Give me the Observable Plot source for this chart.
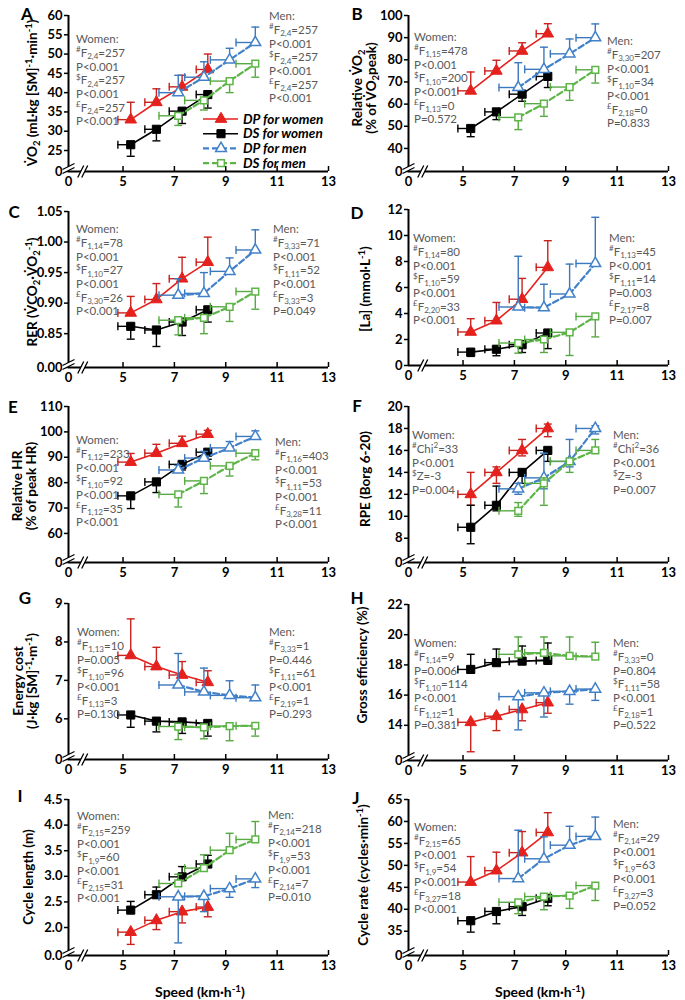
<!DOCTYPE html>
<html>
<head>
<meta charset="utf-8">
<script src="https://cdn.jsdelivr.net/npm/d3@7"></script>
<script src="https://cdn.jsdelivr.net/npm/@observablehq/plot@0.6"></script>
<style>
html,body{margin:0;padding:0;background:#fff;}
#fig{position:relative;width:685px;height:1000px;overflow:hidden;font-family:Lato,"Open Sans",sans-serif;}
.panel{position:absolute;}
.panel svg{overflow:visible;}
.ann{position:absolute;color:#595959;font-size:11.5px;line-height:13.7px;white-space:nowrap;}
.ann sup,.ann sub,.yt sup,.yt sub,.xt sup{font-size:0.7em;line-height:0;position:relative;vertical-align:baseline;}
.ann sup{top:-0.55em;} .ann sub{top:0.3em;}
.yt{position:absolute;font-weight:bold;font-size:13.5px;line-height:14px;white-space:nowrap;text-align:center;color:#000;transform:translate(-50%,-50%) rotate(-90deg);}
.yt sup{top:-0.5em;} .yt sub{top:0.3em;}
.xt{position:absolute;font-weight:bold;font-size:14px;white-space:nowrap;transform:translate(-50%,-50%);}
.xt sup{top:-0.5em;}
.letter{position:absolute;font-weight:bold;font-size:17px;line-height:17px;transform:translate(-50%,-50%);}
.legend{position:absolute;}
</style>
</head>
<body>
<div id="fig"></div>
<script>
// ---------------- DATA ----------------
const speedW = [5.3, 6.3, 7.3, 8.3];
const speedM = [7.15, 8.15, 9.15, 10.15];
const speedSdW = [0.5, 0.45, 0.5, 0.45];
const speedSdM = [0.75, 0.75, 0.75, 0.75];
const xTicks = [0, 5, 7, 9, 11, 13];

// A: VO2
const A_ticks = [0, 25, 30, 35, 40, 45, 50, 55, 60];
const A_dpW = [33, 37.5, 41.5, 46],     A_dpW_err = [4.5, 3.5, 3, 4];
const A_dsW = [26.5, 30.5, 35.2, 39.5], A_dsW_err = [-3, -3, -3.2, -3.5];
const A_dpM = [40, 44, 48.5, 53],       A_dpM_err = [4.5, 4, 3, 4];
const A_dsM = [34, 38, 43, 47.5],       A_dsM_err = [-2.5, -2.5, -3, -3.5];
// B: Relative VO2
const B_ticks = [0, 40, 50, 60, 70, 80, 90, 100];
const B_dpW = [66, 75, 84, 91.8],       B_dpW_err = [8.5, 4.8, 3.7, 4.5];
const B_dsW = [49, 56.5, 64.5, 72.5],   B_dsW_err = [-3.7, -3.5, -3.2, -5];
const B_dpM = [67.5, 75.7, 82.7, 90],   B_dpM_err = [11.2, 10, 6.7, 6.2];
const B_dsM = [54, 60.2, 67.7, 75.5],   B_dsM_err = [-5.5, -5.7, -6, -6];
// C: RER
const C_ticks = [0, 0.85, 0.90, 0.95, 1.00, 1.05];
const C_dpW = [0.884, 0.906, 0.940, 0.967], C_dpW_err = [0.027, 0.026, 0.035, 0.041];
const C_dsW = [0.862, 0.856, 0.869, 0.889], C_dsW_err = [-0.021, -0.027, -0.022, -0.020];
const C_dpM = [0.913, 0.916, 0.952, 0.987], C_dpM_err = [0.027, 0.034, 0.022, 0.033];
const C_dsM = [0.872, 0.876, 0.894, 0.919], C_dsM_err = [-0.024, -0.026, -0.024, -0.029];
// D: [La]
const D_ticks = [0, 2, 4, 6, 8, 10, 12];
const D_dpW = [2.58, 3.45, 5.1, 7.55],  D_dpW_err = [1.02, 1.4, 1.6, 2.05];
const D_dsW = [1.03, 1.25, 1.6, 2.5],   D_dsW_err = [-0.33, -0.5, -0.6, -1.2];
const D_dpM = [4.5, 4.45, 5.5, 7.85],   D_dpM_err = [3.9, 1.8, 2.3, 3.55];
const D_dsM = [1.73, 2.0, 2.55, 3.77],  D_dsM_err = [-0.78, -1.0, -1.78, -1.57];
// E: Relative HR
const E_ticks = [0, 60, 70, 80, 90, 100, 110];
const E_dpW = [88.1, 91.6, 95.5, 99.1], E_dpW_err = [3.4, 3.5, 2.8, 1.5];
const E_dsW = [74.8, 80.3, 87.2, 92],   E_dsW_err = [-5, -4.2, -2.2, -2.8];
const E_dpM = [85, 89.7, 93.7, 98.2],   E_dpM_err = [1.8, 2.6, 2.5, 2.2];
const E_dsM = [75.4, 80.7, 86.6, 91.6], E_dsM_err = [-5, -5, -4, -2.6];
// F: RPE (median, interquartile range)
const F_ticks = [0, 8, 10, 12, 14, 16, 18, 20];
const F_dpW = [12, 14, 16, 18],     F_dpW_lo = [11, 13, 15.5, 17.25], F_dpW_hi = [14, 14.5, 17, 18.4];
const F_dsW = [9, 11, 14, 16],      F_dsW_lo = [7.5, 10.5, 13, 15],   F_dsW_hi = [11, 12.75, 14, 16];
const F_dpM = [12.5, 13.5, 15, 18], F_dpM_lo = [12, 12.5, 14.5, 17.5], F_dpM_hi = [13, 15.75, 17, 18.25];
const F_dsM = [10.5, 13, 15, 16],   F_dsM_lo = [10, 11, 14, 16],      F_dsM_hi = [11.25, 13.5, 15, 17];
// G: Energy cost
const G_ticks = [0, 6, 7, 8, 9];
const G_dpW = [7.65, 7.36, 7.14, 6.95], G_dpW_err = [0.95, 0.5, 0.35, 0.3];
const G_dsW = [6.1, 5.94, 5.92, 5.88],  G_dsW_err = [-0.32, -0.28, -0.3, -0.33];
const G_dpM = [6.88, 6.7, 6.61, 6.55],  G_dpM_err = [0.82, 0.62, 0.38, 0.33];
const G_dsM = [5.8, 5.78, 5.81, 5.82],  G_dsM_err = [-0.34, -0.3, -0.38, -0.27];
// H: Gross efficiency
const H_ticks = [0, 14, 16, 18, 20, 22];
const H_dpW = [14.2, 14.6, 15.05, 15.5],  H_dpW_err = [-1.95, -0.95, -0.75, -0.7];
const H_dsW = [17.7, 18.15, 18.25, 18.3], H_dsW_err = [1.0, 0.9, 1.0, 1.15];
const H_dpM = [15.9, 16.15, 16.25, 16.4], H_dpM_err = [-2.2, -1.6, -0.85, -0.75];
const H_dsM = [18.7, 18.8, 18.6, 18.55],  H_dsM_err = [1.15, 1.05, 1.25, 0.95];
// I: Cycle length
const I_ticks = [0, 2.0, 2.5, 3.0, 3.5, 4.0, 4.5];
const I_dpW = [1.91, 2.14, 2.31, 2.4],  I_dpW_err = [-0.24, -0.18, -0.22, -0.19];
const I_dsW = [2.34, 2.64, 2.99, 3.24], I_dsW_err = [0.17, 0.15, 0.2, 0.17];
const I_dpM = [2.6, 2.61, 2.76, 2.95],  I_dpM_err = [-0.9, -0.3, -0.17, -0.17];
const I_dsM = [2.86, 3.16, 3.51, 3.72], I_dsM_err = [0.18, 0.26, 0.33, 0.35];
// J: Cycle rate
const J_ticks = [0, 35, 40, 45, 50, 55, 60, 65];
const J_dpW = [46.2, 48.8, 52.9, 57.5], J_dpW_err = [5.8, 4.2, 4.8, 4.5];
const J_dsW = [37.4, 39.5, 40.6, 42.5], J_dsW_err = [-2.6, -2.8, -2, -1.7];
const J_dpM = [47, 51.5, 54.6, 56.6],   J_dpM_err = [11, 5, 4.3, 4.4];
const J_dsM = [41.6, 42.9, 43.1, 45.4], J_dsM_err = [-2.6, -3, -2.9, -3.4];

// statistics text
const A_women = ["Women:", "#F_{2,4}=257", "P<0.001", "$F_{2,4}=257", "P<0.001", "£F_{2,4}=257", "P<0.001"];
const A_men   = ["Men:", "#F_{2,4}=257", "P<0.001", "$F_{2,4}=257", "P<0.001", "£F_{2,4}=257", "P<0.001"];
const B_women = ["Women:", "#F_{1,15}=478", "P<0.001", "$F_{1,10}=200", "P<0.001", "£F_{1,13}=0", "P=0.572"];
const B_men   = ["Men:", "#F_{3,30}=207", "P<0.001", "$F_{1,10}=34", "P<0.001", "£F_{2,18}=0", "P=0.833"];
const C_women = ["Women:", "#F_{1,14}=78", "P<0.001", "$F_{1,10}=27", "P<0.001", "£F_{3,30}=26", "P<0.001"];
const C_men   = ["Men:", "#F_{3,33}=71", "P<0.001", "$F_{1,11}=52", "P<0.001", "£F_{3,33}=3", "P=0.049"];
const D_women = ["Women:", "#F_{1,14}=80", "P<0.001", "$F_{1,10}=59", "P<0.001", "£F_{2,20}=33", "P<0.001"];
const D_men   = ["Men:", "#F_{1,13}=45", "P<0.001", "$F_{1,11}=14", "P=0.003", "£F_{2,17}=8", "P=0.007"];
const E_women = ["Women:", "#F_{1,12}=233", "P<0.001", "$F_{1,10}=92", "P<0.001", "£F_{1,12}=35", "P<0.001"];
const E_men   = ["Men:", "#F_{1,16}=403", "P<0.001", "$F_{1,11}=53", "P<0.001", "£F_{3,28}=11", "P<0.001"];
const F_women = ["Women:", "#Chi^{2}=33", "P<0.001", "$Z=-3", "P=0.004"];
const F_men   = ["Men:", "#Chi^{2}=36", "P<0.001", "$Z=-3", "P=0.007"];
const G_women = ["Women:", "#F_{1,13}=10", "P=0.005", "$F_{1,10}=96", "P<0.001", "£F_{1,13}=3", "P=0.130"];
const G_men   = ["Men:", "#F_{3,33}=1", "P=0.446", "$F_{1,11}=61", "P<0.001", "£F_{2,19}=1", "P=0.293"];
const H_women = ["Women:", "#F_{1,14}=9", "P=0.006", "$F_{1,10}=114", "P<0.001", "£F_{1,12}=1", "P=0.381"];
const H_men   = ["Men:", "#F_{3,33}=0", "P=0.804", "$F_{1,11}=58", "P<0.001", "£F_{2,18}=1", "P=0.522"];
const I_women = ["Women:", "#F_{2,15}=259", "P<0.001", "$F_{1,9}=60", "P<0.001", "£F_{2,15}=31", "P<0.001"];
const I_men   = ["Men:", "#F_{2,14}=218", "P<0.001", "$F_{1,9}=53", "P<0.001", "£F_{2,14}=7", "P=0.010"];
const J_women = ["Women:", "#F_{2,15}=65", "P<0.001", "$F_{1,9}=54", "P<0.001", "£F_{3,27}=18", "P<0.001"];
const J_men   = ["Men:", "#F_{2,14}=29", "P<0.001", "$F_{1,9}=63", "P<0.001", "£F_{3,27}=3", "P=0.052"];

const legendLabels = ["DP for women", "DS for women", "DP for men", "DS for men"];
const xTitle = "Speed (km·h^{-1})";

// ---------------- STYLE / LAYOUT ----------------
const style = {
  dpW: {color: "#e5211d", bar: "#c9231e", symbol: "triangle", filled: true,  dash: null,  r: 4.3},
  dsW: {color: "#000000", bar: "#000000", symbol: "square",   filled: true,  dash: null,  r: 4.6},
  dpM: {color: "#4181c9", bar: "#3b78be", symbol: "triangle", filled: false, dash: "6,3", r: 4.0},
  dsM: {color: "#5db547", bar: "#57aa43", symbol: "square",   filled: false, dash: "6,3", r: 3.8}
};
const seriesKeys = ["dpW", "dsW", "dpM", "dsM"];

function rich(s) {
  return s.replace(/^([#$£])/, "<sup>$1</sup>")
          .replace(/_\{([^}]*)\}/g, "<sub>$1</sub>")
          .replace(/\^\{([^}]*)\}/g, "<sup>$1</sup>");
}

const capH = {draw(c) { c.moveTo(-4, 0); c.lineTo(4, 0); }};
const capV = {draw(c) { c.moveTo(0, -4); c.lineTo(0, 4); }};
const brkYFill = {draw(c) { c.moveTo(-6, 2); c.lineTo(6, -4); c.lineTo(6, 0); c.lineTo(-6, 6); c.closePath(); }};
const brkYLine = {draw(c) { c.moveTo(-6, 2); c.lineTo(6, -4); c.moveTo(-6, 6); c.lineTo(6, 0); }};
const brkXFill = {draw(c) { c.moveTo(-5, 6); c.lineTo(1, -6); c.lineTo(5, -6); c.lineTo(-1, 6); c.closePath(); }};
const brkXLine = {draw(c) { c.moveTo(-5, 6); c.lineTo(1, -6); c.moveTo(-1, 6); c.lineTo(5, -6); }};

function makeRows(xs, sds, ys, err, lo, hi) {
  return ys.map((y, i) => {
    if (err) {
      const e = y + err[i];
      return {x: xs[i], sd: sds[i], y, y1: Math.min(y, e), y2: Math.max(y, e), caps: [e]};
    }
    return {x: xs[i], sd: sds[i], y, y1: lo[i], y2: hi[i], caps: [lo[i], hi[i]]};
  });
}

function sw(key, ys, err, lo, hi) {
  const men = key === "dpM" || key === "dsM";
  return {key, rows: makeRows(men ? speedM : speedW, men ? speedSdM : speedSdW, ys, err, lo, hi)};
}

const panels = [
  {id: "A", left: 0,   top: 0,   ticks: A_ticks, yBreak: 21.63, dec: 0,
   series: [sw("dpW", A_dpW, A_dpW_err), sw("dsW", A_dsW, A_dsW_err), sw("dpM", A_dpM, A_dpM_err), sw("dsM", A_dsM, A_dsM_err)],
   women: A_women, men: A_men, wPos: [76, 39], mPos: [269, 16], letterPos: [27, 13],
   title: ["V̇O<sub>2</sub> (mL·kg [SM]<sup>-1</sup>·min<sup>-1</sup>)"], titlePos: [32, 93]},
  {id: "B", left: 340, top: 0,   ticks: B_ticks, yBreak: 33.2, dec: 0,
   series: [sw("dpW", B_dpW, B_dpW_err), sw("dsW", B_dsW, B_dsW_err), sw("dpM", B_dpM, B_dpM_err), sw("dsM", B_dsM, B_dsM_err)],
   women: B_women, men: B_men, wPos: [414, 37], mPos: [607, 41], letterPos: [357, 13],
   title: ["Relative V̇O<sub>2</sub>", "(% of V̇O<sub>2</sub>peak)"], titlePos: [364, 88]},
  {id: "C", left: 0,   top: 196, ticks: C_ticks, yBreak: 0.8077, dec: 2,
   series: [sw("dpW", C_dpW, C_dpW_err), sw("dsW", C_dsW, C_dsW_err), sw("dpM", C_dpM, C_dpM_err), sw("dsM", C_dsM, C_dsM_err)],
   women: C_women, men: C_men, wPos: [76, 229], mPos: [273, 229], letterPos: [14, 211],
   title: ["RER (V̇CO<sub>2</sub>·V̇O<sub>2</sub><sup>-1</sup>)"], titlePos: [32, 292]},
  {id: "D", left: 340, top: 194, ticks: D_ticks, yBreak: null, dec: 0,
   series: [sw("dpW", D_dpW, D_dpW_err), sw("dsW", D_dsW, D_dsW_err), sw("dpM", D_dpM, D_dpM_err), sw("dsM", D_dsM, D_dsM_err)],
   women: D_women, men: D_men, wPos: [413, 238], mPos: [609, 238], letterPos: [357, 212],
   title: ["[La] (mmol·L<sup>-1</sup>)"], titlePos: [365, 289]},
  {id: "E", left: 0,   top: 391, ticks: E_ticks, yBreak: 51.7, dec: 0,
   series: [sw("dpW", E_dpW, E_dpW_err), sw("dsW", E_dsW, E_dsW_err), sw("dpM", E_dpM, E_dpM_err), sw("dsM", E_dsM, E_dsM_err)],
   women: E_women, men: E_men, wPos: [76, 440], mPos: [275, 442], letterPos: [13, 406],
   title: ["Relative HR", "(% of peak HR)"], titlePos: [24, 486]},
  {id: "F", left: 340, top: 391, ticks: F_ticks, yBreak: 6.52, dec: 0,
   series: [sw("dpW", F_dpW, null, F_dpW_lo, F_dpW_hi), sw("dsW", F_dsW, null, F_dsW_lo, F_dsW_hi),
            sw("dpM", F_dpM, null, F_dpM_lo, F_dpM_hi), sw("dsM", F_dsM, null, F_dsM_lo, F_dsM_hi)],
   women: F_women, men: F_men, wPos: [412, 435], mPos: [613, 435], letterPos: [357, 405],
   title: ["RPE (Borg 6-20)"], titlePos: [365, 479]},
  {id: "G", left: 0,   top: 588, ticks: G_ticks, yBreak: 5.15, dec: 0,
   series: [sw("dpW", G_dpW, G_dpW_err), sw("dsW", G_dsW, G_dsW_err), sw("dpM", G_dpM, G_dpM_err), sw("dsM", G_dsM, G_dsM_err)],
   women: G_women, men: G_men, wPos: [77, 632], mPos: [269, 632], letterPos: [25, 597],
   title: ["Energy cost", "(J·kg [SM]<sup>-1</sup>·m<sup>-1</sup>)"], titlePos: [25, 681]},
  {id: "H", left: 340, top: 589, ticks: H_ticks, yBreak: 12.2, dec: 0,
   series: [sw("dpW", H_dpW, H_dpW_err), sw("dsW", H_dsW, H_dsW_err), sw("dpM", H_dpM, H_dpM_err), sw("dsM", H_dsM, H_dsM_err)],
   women: H_women, men: H_men, wPos: [414, 643], mPos: [613, 643], letterPos: [357, 597],
   title: ["Gross efficiency (%)"], titlePos: [362, 665]},
  {id: "I", left: 0,   top: 784, ticks: I_ticks, yBreak: 1.61, dec: 1,
   series: [sw("dpW", I_dpW, I_dpW_err), sw("dsW", I_dsW, I_dsW_err), sw("dpM", I_dpM, I_dpM_err), sw("dsM", I_dsM, I_dsM_err)],
   women: I_women, men: I_men, wPos: [77, 816], mPos: [268, 815], letterPos: [20, 795],
   title: ["Cycle length (m)"], titlePos: [28, 877], xTitlePos: [200, 991]},
  {id: "J", left: 340, top: 784, ticks: J_ticks, yBreak: 31.3, dec: 0,
   series: [sw("dpW", J_dpW, J_dpW_err), sw("dsW", J_dsW, J_dsW_err), sw("dpM", J_dpM, J_dpM_err), sw("dsM", J_dsM, J_dsM_err)],
   women: J_women, men: J_men, wPos: [414, 827], mPos: [613, 824], letterPos: [356, 797],
   title: ["Cycle rate (cycles·min<sup>-1</sup>)"], titlePos: [363, 875], xTitlePos: [540, 991]}
];

const fig = document.getElementById("fig");
const ML = 68, MT = 15, MB = 24, H = 195, XB = 3.8;

function seriesMarks(s) {
  const st = style[s.key];
  const rows = s.rows;
  const caps = rows.flatMap(r => r.caps.map(c => ({x: r.x, y: c})));
  return [
    Plot.ruleX(rows, {x: "x", y1: "y1", y2: "y2", stroke: st.bar, strokeWidth: 1.4}),
    Plot.dot(caps, {x: "x", y: "y", symbol: capH, r: 1, fill: "none", stroke: st.bar, strokeWidth: 1.4}),
    Plot.ruleY(rows, {y: "y", x1: d => d.x - d.sd, x2: "x", stroke: st.bar, strokeWidth: 1.4}),
    Plot.dot(rows, {x: d => d.x - d.sd, y: "y", symbol: capV, r: 1, fill: "none", stroke: st.bar, strokeWidth: 1.4}),
    Plot.line(rows, {x: "x", y: "y", stroke: st.color, strokeWidth: st.dash ? 2.2 : 1.6, strokeDasharray: st.dash}),
    Plot.dot(rows, {x: "x", y: "y", symbol: st.symbol, r: st.r, fill: st.filled ? st.color : "white",
                    stroke: st.color, strokeWidth: st.filled ? 1 : 1.5})
  ];
}

for (const p of panels) {
  const width = p.left === 0 ? 340 : 345;
  const mr = width - 260 - ML;
  const yb = H - MB;
  const yMax = p.ticks[p.ticks.length - 1];
  const yScale = p.yBreak == null
    ? {type: "linear", domain: [0, yMax], range: [yb, MT]}
    : {type: "linear", domain: [0, p.yBreak, yMax], range: [yb, yb - 8, MT]};
  const xScale = {type: "linear", domain: [0, XB, 13], range: [ML, ML + 23.7, width - mr]};
  const fmt = d => d === 0 ? (p.dec ? (0).toFixed(p.dec) : "0") : d.toFixed(p.dec);

  const marks = [];
  for (const s of p.series) marks.push(...seriesMarks(s));
  marks.push(
    Plot.axisY(p.ticks, {tickSize: 4, tickPadding: 2, tickFormat: fmt, label: null, strokeWidth: 1.5, fontWeight: "bold"}),
    Plot.axisX(xTicks, {tickSize: 0, tickPadding: 5, tickFormat: d => String(d), label: null, fontWeight: "bold"}),
    Plot.axisX(xTicks.slice(1), {tickSize: 5, dy: -5, tickFormat: () => "", label: null, strokeWidth: 1.5}),
    Plot.ruleX([0], {stroke: "#000", strokeWidth: 2}),
    Plot.ruleY([0], {stroke: "#000", strokeWidth: 2}),
    Plot.dot([0], {x: () => XB * 0.6, y: () => 0, symbol: brkXFill, r: 1, fill: "white", stroke: "none"}),
    Plot.dot([0], {x: () => XB * 0.6, y: () => 0, symbol: brkXLine, r: 1, fill: "none", stroke: "#000", strokeWidth: 1.3})
  );
  if (p.yBreak != null) {
    marks.push(
      Plot.dot([0], {x: () => 0, y: () => p.yBreak * 0.5, symbol: brkYFill, r: 1, fill: "white", stroke: "none"}),
      Plot.dot([0], {x: () => 0, y: () => p.yBreak * 0.5, symbol: brkYLine, r: 1, fill: "none", stroke: "#000", strokeWidth: 1.3})
    );
  }

  const chart = Plot.plot({
    width, height: H, marginLeft: ML, marginRight: mr, marginTop: MT, marginBottom: MB,
    x: xScale, y: yScale,
    style: {fontFamily: "Lato, 'Open Sans', sans-serif", fontSize: "13px", fontWeight: "bold", color: "#000", background: "transparent", overflow: "visible"},
    marks
  });
  const wrap = document.createElement("div");
  wrap.className = "panel";
  wrap.style.left = p.left + "px";
  wrap.style.top = p.top + "px";
  wrap.appendChild(chart);
  fig.appendChild(wrap);

  // statistics annotations
  for (const [lines, pos] of [[p.women, p.wPos], [p.men, p.mPos]]) {
    const d = document.createElement("div");
    d.className = "ann";
    d.style.left = pos[0] + "px";
    d.style.top = (pos[1] - 6.85) + "px";
    d.innerHTML = lines.map(l => "<div>" + rich(l) + "</div>").join("");
    fig.appendChild(d);
  }
  // panel letter
  const L = document.createElement("div");
  L.className = "letter";
  L.style.left = p.letterPos[0] + "px";
  L.style.top = p.letterPos[1] + "px";
  L.textContent = p.id;
  fig.appendChild(L);
  // y title
  const T = document.createElement("div");
  T.className = "yt";
  T.style.left = p.titlePos[0] + "px";
  T.style.top = p.titlePos[1] + "px";
  T.innerHTML = p.title.join("<br>");
  fig.appendChild(T);
  if (p.xTitlePos) {
    const X = document.createElement("div");
    X.className = "xt";
    X.style.left = p.xTitlePos[0] + "px";
    X.style.top = p.xTitlePos[1] + "px";
    X.innerHTML = rich(xTitle);
    fig.appendChild(X);
  }
}

// legend (panel A)
(function () {
  const svg = d3.create("svg").attr("width", 130).attr("height", 60)
    .attr("class", "legend").style("left", "200px").style("top", "111px").style("overflow", "visible");
  seriesKeys.forEach((k, i) => {
    const st = style[k];
    const y = 8 + i * 14.7;
    const g = svg.append("g").attr("transform", `translate(0,${y})`);
    g.append("line").attr("x1", 3).attr("x2", 38).attr("y1", 0).attr("y2", 0)
      .attr("stroke", st.color).attr("stroke-width", st.dash ? 2.2 : 1.6).attr("stroke-dasharray", st.dash);
    const sym = st.symbol === "triangle" ? d3.symbolTriangle : d3.symbolSquare;
    g.append("path").attr("transform", "translate(21,0)")
      .attr("d", d3.symbol(sym, st.r * st.r * Math.PI)())
      .attr("fill", st.filled ? st.color : "white").attr("stroke", st.color).attr("stroke-width", st.filled ? 1 : 1.5);
    g.append("text").attr("x", 43).attr("y", 0).attr("dy", "0.35em")
      .attr("font-family", "Lato, 'Open Sans', sans-serif").attr("font-size", 13.5)
      .attr("font-weight", "bold").attr("font-style", "italic").text(legendLabels[i]);
  });
  fig.appendChild(svg.node());
})();
</script>
</body>
</html>
